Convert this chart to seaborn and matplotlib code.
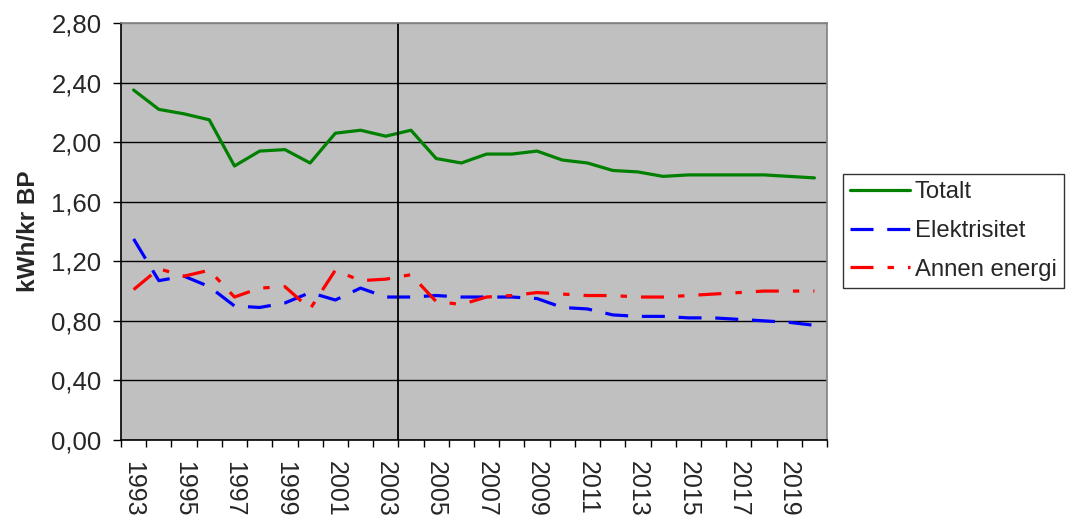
import matplotlib
matplotlib.use("Agg")
import matplotlib.pyplot as plt
import matplotlib.ticker as mticker
import pandas as pd
import seaborn as sns

# Values
years = list(range(1993, 2021))
totalt = [2.35, 2.22, 2.19, 2.15, 1.84, 1.94, 1.95, 1.86, 2.06, 2.08, 2.04, 2.08, 1.89, 1.86,
          1.92, 1.92, 1.94, 1.88, 1.86, 1.81, 1.80, 1.77, 1.78, 1.78, 1.78, 1.78, 1.77, 1.76]
elektrisitet = [1.35, 1.07, 1.10, 1.03, 0.90, 0.89, 0.92, 0.99, 0.94, 1.02, 0.96, 0.96, 0.97, 0.96,
                0.96, 0.96, 0.95, 0.89, 0.88, 0.84, 0.83, 0.83, 0.82, 0.82, 0.81, 0.80, 0.79, 0.77]
annen_energi = [1.01, 1.15, 1.10, 1.14, 0.96, 1.02, 1.03, 0.88, 1.14, 1.07, 1.08, 1.11, 0.93, 0.91,
                0.96, 0.97, 0.99, 0.98, 0.97, 0.97, 0.96, 0.96, 0.97, 0.98, 0.99, 1.00, 1.00, 1.00]
series_names = ["Totalt", "Elektrisitet", "Annen energi"]
y_ticks = [0.0, 0.4, 0.8, 1.2, 1.6, 2.0, 2.4, 2.8]
x_label_years = list(range(1993, 2020, 2))
split_year = 2003.5

df = pd.DataFrame({"År": years, "Totalt": totalt, "Elektrisitet": elektrisitet,
                   "Annen energi": annen_energi})
long_df = df.melt(id_vars="År", var_name="Serie", value_name="Verdi")

sns.set_style("white")
plt.rcParams["font.family"] = ["Liberation Sans", "DejaVu Sans"]

fig = plt.figure(figsize=(10.67, 5.15), dpi=100)
ax = fig.add_axes([121 / 1067, 1 - 440 / 515, (827 - 121) / 1067, (440 - 23) / 515])
ax.set_facecolor("#C0C0C0")

palette = {"Totalt": "#008000", "Elektrisitet": "#0000FF", "Annen energi": "#FF0000"}
dashes = {"Totalt": "", "Elektrisitet": (7.2, 4.3), "Annen energi": (7.2, 4.4, 2.0, 4.4)}
sns.lineplot(data=long_df, x="År", y="Verdi", hue="Serie", style="Serie",
             hue_order=series_names, style_order=series_names,
             palette=palette, dashes=dashes, linewidth=2.3, ax=ax)

ax.set_xlim(1992.5, 2020.5)
ax.set_ylim(0, 2.8)
ax.set_yticks(y_ticks)
ax.yaxis.set_major_formatter(mticker.FuncFormatter(lambda v, p: f"{v:.2f}".replace(".", ",")))
ax.set_xticks(x_label_years)
ax.set_xticklabels([str(y) for y in x_label_years], rotation=270, fontsize=18)
ax.set_xticks([y - 0.5 for y in years] + [years[-1] + 0.5], minor=True)
ax.tick_params(axis="x", which="major", length=0, pad=15)
ax.tick_params(axis="x", which="minor", length=5, width=1, color="black", direction="out", bottom=True)
ax.tick_params(axis="y", length=6, width=1, color="black", direction="out", left=True,
               pad=8, labelsize=18.5)

ax.grid(axis="y", color="black", linewidth=1)
ax.grid(axis="x", visible=False)
ax.yaxis.get_gridlines()[-1].set_color("#808080")
ax.axvline(split_year, color="black", linewidth=1.3)

for side in ["left", "bottom"]:
    ax.spines[side].set_color("black")
    ax.spines[side].set_linewidth(1.2)
for side in ["top", "right"]:
    ax.spines[side].set_color("#808080")
    ax.spines[side].set_linewidth(1.2)

ax.set_xlabel("")
ax.set_ylabel("kWh/kr BP", fontsize=17.5, fontweight="bold", labelpad=8)

handles, labels = ax.get_legend_handles_labels()
pairs = [(h, l) for h, l in zip(handles, labels) if l in series_names]
ax.get_legend().remove()
leg = fig.legend([p[0] for p in pairs], [p[1] for p in pairs],
                 loc="upper left", bbox_to_anchor=(843 / 1067, 1 - 174 / 515),
                 fontsize=17.2, frameon=True, fancybox=False, edgecolor="black",
                 handlelength=2.5, handletextpad=0.2, borderpad=0.3, labelspacing=0.7,
                 borderaxespad=0)
leg.get_frame().set_linewidth(1)

fig.savefig("out.png", dpi=100)
